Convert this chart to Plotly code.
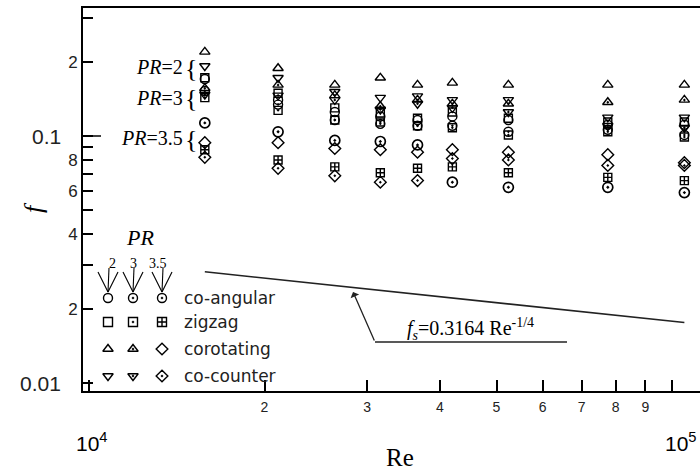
import numpy as np
import plotly.graph_objects as go

# Reynolds numbers of the measured runs
re_vals = [15800, 21100, 26400, 31600, 36600, 42000, 52400, 77600, 105000]

# Friction factor f, pitch ratio PR = 2
f_pr2_coangular = [0.170, 0.140, 0.125, 0.120, 0.116, 0.120, 0.116, 0.111, 0.111]
f_pr2_zigzag = [0.172, 0.149, 0.130, 0.124, 0.118, 0.125, 0.118, 0.114, 0.114]
f_pr2_corotating = [0.219, 0.188, 0.161, 0.172, 0.161, 0.164, 0.161, 0.161, 0.161]
f_pr2_cocounter = [0.192, 0.172, 0.151, 0.143, 0.145, 0.140, 0.140, 0.119, 0.119]

# PR = 3
f_pr3_coangular = [0.152, 0.134, 0.116, 0.112, 0.110, 0.110, 0.104, 0.106, 0.101]
f_pr3_zigzag = [0.143, 0.127, 0.116, 0.114, 0.110, 0.108, 0.101, 0.104, 0.099]
f_pr3_corotating = [0.156, 0.161, 0.146, 0.132, 0.140, 0.135, 0.135, 0.137, 0.140]
f_pr3_cocounter = [0.147, 0.146, 0.140, 0.128, 0.135, 0.130, 0.125, 0.110, 0.108]

# PR = 3.5
f_pr35_coangular = [0.113, 0.104, 0.096, 0.095, 0.092, 0.065, 0.062, 0.062, 0.059]
f_pr35_zigzag = [0.088, 0.080, 0.075, 0.071, 0.074, 0.075, 0.071, 0.068, 0.066]
f_pr35_corotating = [0.094, 0.094, 0.089, 0.088, 0.086, 0.088, 0.086, 0.084, 0.078]
f_pr35_cocounter = [0.082, 0.074, 0.069, 0.065, 0.066, 0.081, 0.080, 0.076, 0.076]

# Smooth-pipe Blasius correlation
blasius_coef = 0.3164
blasius_exp = -0.25
blasius_re_span = [15800, 105000]

x_tick_vals = [1e4, 2e4, 3e4, 4e4, 5e4, 6e4, 7e4, 8e4, 9e4, 1e5]
x_tick_text = ["", "2", "3", "4", "5", "6", "7", "8", "9", ""]
y_tick_vals = [0.01, 0.02, 0.04, 0.06, 0.08, 0.1, 0.2]
y_tick_text = ["", "2", "4", "6", "8", "", "2"]
y_decade_vals = [0.01, 0.1]
y_decade_text = ["0.01", "0.1"]
y_minor_vals = [0.03, 0.05, 0.07, 0.09, 0.3]

legend_configs = ["co-angular", "zigzag", "corotating", "co-counter"]
legend_pr = ["2", "3", "3.5"]

SERIF = "Liberation Serif"
SANS = "Liberation Sans"

# plot box in page pixels
W, H = 700, 471
L, R, T, B = 83, 700, 8, 391


def px(x):
    return (x - L) / (R - L)


def py(y):
    return (B - y) / (B - T)


def label(x, y, text, size, family=SERIF, xanchor="center", **kw):
    return dict(xref="paper", yref="paper", x=px(x), y=py(y), text=text,
                showarrow=False, xanchor=xanchor, yanchor="middle",
                font=dict(family=family, size=size, color=kw.pop("color", "black")),
                **kw)


series = [
    (f_pr2_coangular, "circle-open", 9, 1.4),
    (f_pr2_zigzag, "square-open", 8, 1.4),
    (f_pr2_corotating, "triangle-up-open", 9, 1.4),
    (f_pr2_cocounter, "triangle-down-open", 9, 1.4),
    (f_pr3_coangular, "circle-open-dot", 9, 1.4),
    (f_pr3_zigzag, "square-open-dot", 8, 1.4),
    (f_pr3_corotating, "triangle-up-open-dot", 9, 1.4),
    (f_pr3_cocounter, "triangle-down-open-dot", 9, 1.4),
    (f_pr35_coangular, "circle-open-dot", 10, 1.7),
    (f_pr35_zigzag, "square-cross-open", 8, 1.4),
    (f_pr35_corotating, "diamond-open", 9, 1.4),
    (f_pr35_cocounter, "diamond-open-dot", 9, 1.4),
]

fig = go.Figure()

for vals, sym, size, lw in series:
    fig.add_trace(go.Scatter(
        x=re_vals, y=vals, mode="markers", showlegend=False,
        marker=dict(symbol=sym, size=size, color="black",
                    line=dict(color="black", width=lw)),
    ))

re_line = np.geomspace(blasius_re_span[0], blasius_re_span[1], 60)
f_line = blasius_coef * re_line ** blasius_exp
fig.add_trace(go.Scatter(
    x=re_line, y=f_line, mode="lines", showlegend=False,
    line=dict(color="#222", width=1.6),
))

# key: symbols on an overlay axis measured in page pixels
key_cols = [108, 133, 162]
key_rows = [298, 322, 349, 376]
key_symbols = [
    ["circle-open", "circle-open-dot", "circle-open-dot"],
    ["square-open", "square-open-dot", "square-cross-open"],
    ["triangle-up-open", "triangle-up-open-dot", "diamond-open"],
    ["triangle-down-open", "triangle-down-open-dot", "diamond-open-dot"],
]
kx, ky, ks = [], [], []
for r, row in enumerate(key_symbols):
    for c, sym in enumerate(row):
        kx.append(key_cols[c])
        ky.append(key_rows[r])
        ks.append(sym)
fig.add_trace(go.Scatter(
    x=kx, y=ky, mode="markers", showlegend=False, xaxis="x2", yaxis="y2",
    marker=dict(symbol=ks, size=9, color="black", line=dict(color="black", width=1.4)),
))

shapes = []
annotations = []

# pointers from the PR numbers down to the key symbols
for cx in key_cols:
    for dx, top in ((-10, 272), (1, 268), (10, 272)):
        shapes.append(dict(type="line", xref="paper", yref="paper",
                           x0=px(cx + dx), y0=py(top), x1=px(cx), y1=py(292),
                           line=dict(color="black", width=1.1)))
for cx, lab in zip([112, 133, 158], legend_pr):
    annotations.append(label(cx, 263, lab, 14))
annotations.append(label(140, 237, "<i>PR</i>", 22))
for yy, lab in zip(key_rows, legend_configs):
    annotations.append(label(182, yy, lab, 17, family="DejaVu Sans",
                             xanchor="left", color="#222"))

# PR group labels beside the first column
for yy, lab in [(67, "2"), (98, "3"), (138, "3.5")]:
    annotations.append(label(185, yy, "<i>PR</i>=" + lab, 20, xanchor="right"))
    annotations.append(label(191, yy + 1, "{", 26))

# correlation label with pointer
annotations.append(label(470, 329, "<i>f<sub>s</sub></i>=0.3164 Re<sup>-1/4</sup>", 20))
shapes.append(dict(type="line", xref="paper", yref="paper",
                   x0=px(375), y0=py(342), x1=px(567), y1=py(342),
                   line=dict(color="#222", width=1.3)))
annotations.append(dict(xref="paper", yref="paper", x=px(353), y=py(292),
                        ax=22, ay=50, text="", showarrow=True,
                        arrowhead=1, arrowsize=1.2, arrowwidth=1.3,
                        arrowcolor="#222"))

# longer tick at 0.1
shapes.append(dict(type="line", xref="paper", yref="y", x0=0, x1=px(101),
                   y0=0.1, y1=0.1, line=dict(color="black", width=1.5)))

# decade labels on the f axis, set in a larger size
for v, t in zip(y_decade_vals, y_decade_text):
    annotations.append(dict(xref="paper", yref="y", x=px(63), y=np.log10(v),
                            text=t, showarrow=False, xanchor="right", yanchor="middle",
                            font=dict(family=SANS, size=21, color="#222")))

# decade labels and axis titles
annotations.append(label(92, 442, "10<sup>4</sup>", 21, family=SANS))
annotations.append(label(681, 442, "10<sup>5</sup>", 21, family=SANS))
annotations.append(label(400, 457, "Re", 25))
annotations.append(label(34, 208, "<i>f</i>", 26, textangle=-90))

fig.update_layout(
    width=W, height=H, autosize=False,
    margin=dict(l=L, r=W - R, t=T, b=H - B, pad=0),
    paper_bgcolor="white", plot_bgcolor="white",
    shapes=shapes, annotations=annotations,
    xaxis=dict(
        type="log", range=[3.9897, 5.048], showgrid=False, zeroline=False,
        showline=True, linecolor="black", linewidth=2, mirror=True,
        tickvals=x_tick_vals, ticktext=x_tick_text,
        ticks="inside", ticklen=11, tickwidth=1.5, tickcolor="black",
        ticklabelstandoff=2,
        tickfont=dict(family=SANS, size=14, color="#222"),
    ),
    yaxis=dict(
        type="log", range=[-2.032, -0.482], showgrid=False, zeroline=False,
        showline=True, linecolor="black", linewidth=2,
        tickvals=y_tick_vals, ticktext=y_tick_text,
        ticks="inside", ticklen=10, tickwidth=1.5, tickcolor="black",
        minor=dict(tickvals=y_minor_vals, ticks="inside", ticklen=10,
                   tickwidth=1.5, tickcolor="black"),
        tickfont=dict(family=SANS, size=17, color="#222"),
    ),
    xaxis2=dict(overlaying="x", range=[L, R], visible=False, fixedrange=True),
    yaxis2=dict(overlaying="y", anchor="x2", range=[B, T], visible=False, fixedrange=True),
)

fig.write_html("out.html")
